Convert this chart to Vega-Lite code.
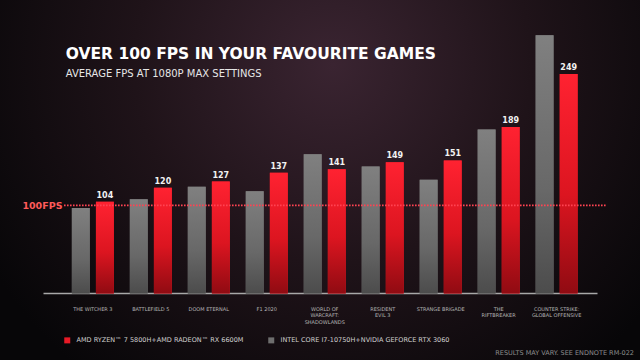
{
  "$schema": "https://vega.github.io/schema/vega-lite/v6.json",
  "width": 640,
  "height": 360,
  "autosize": {"type": "none"},
  "padding": 0,
  "background": "#070608",
  "config": {
    "font": "DejaVu Sans",
    "view": {
      "stroke": null,
      "fill": {
        "gradient": "radial",
        "x1": 0.52, "y1": 0.32, "r1": 0,
        "x2": 0.52, "y2": 0.32, "r2": 0.62,
        "stops": [
          {"offset": 0, "color": "#3a2431"},
          {"offset": 0.5, "color": "#1f1319"},
          {"offset": 1, "color": "#070608"}
        ]
      }
    }
  },
  "title": {
    "text": "OVER 100 FPS IN YOUR FAVOURITE GAMES",
    "subtitle": "AVERAGE FPS AT 1080P MAX SETTINGS",
    "anchor": "start",
    "frame": "group",
    "orient": "top",
    "offset": -78.8,
    "dx": 65.7,
    "font": "DejaVu Sans",
    "fontSize": 15.5,
    "fontWeight": "bold",
    "color": "#ffffff",
    "subtitleFont": "DejaVu Sans",
    "subtitleFontSize": 10,
    "subtitleColor": "#e6e6e6",
    "subtitlePadding": 6
  },
  "datasets": {
    "fps": [
      {"game": "THE WITCHER 3", "system": "INTEL CORE I7-10750H+NVIDIA GEFORCE RTX 3060", "fps": 97},
      {"game": "THE WITCHER 3", "system": "AMD RYZEN™ 7 5800H+AMD RADEON™ RX 6600M", "fps": 104},
      {"game": "BATTLEFIELD 5", "system": "INTEL CORE I7-10750H+NVIDIA GEFORCE RTX 3060", "fps": 107},
      {"game": "BATTLEFIELD 5", "system": "AMD RYZEN™ 7 5800H+AMD RADEON™ RX 6600M", "fps": 120},
      {"game": "DOOM ETERNAL", "system": "INTEL CORE I7-10750H+NVIDIA GEFORCE RTX 3060", "fps": 121},
      {"game": "DOOM ETERNAL", "system": "AMD RYZEN™ 7 5800H+AMD RADEON™ RX 6600M", "fps": 127},
      {"game": "F1 2020", "system": "INTEL CORE I7-10750H+NVIDIA GEFORCE RTX 3060", "fps": 116},
      {"game": "F1 2020", "system": "AMD RYZEN™ 7 5800H+AMD RADEON™ RX 6600M", "fps": 137},
      {"game": "WORLD OF|WARCRAFT:|SHADOWLANDS", "system": "INTEL CORE I7-10750H+NVIDIA GEFORCE RTX 3060", "fps": 158},
      {"game": "WORLD OF|WARCRAFT:|SHADOWLANDS", "system": "AMD RYZEN™ 7 5800H+AMD RADEON™ RX 6600M", "fps": 141},
      {"game": "RESIDENT|EVIL 3", "system": "INTEL CORE I7-10750H+NVIDIA GEFORCE RTX 3060", "fps": 144},
      {"game": "RESIDENT|EVIL 3", "system": "AMD RYZEN™ 7 5800H+AMD RADEON™ RX 6600M", "fps": 149},
      {"game": "STRANGE BRIGADE", "system": "INTEL CORE I7-10750H+NVIDIA GEFORCE RTX 3060", "fps": 129},
      {"game": "STRANGE BRIGADE", "system": "AMD RYZEN™ 7 5800H+AMD RADEON™ RX 6600M", "fps": 151},
      {"game": "THE|RIFTBREAKER", "system": "INTEL CORE I7-10750H+NVIDIA GEFORCE RTX 3060", "fps": 186},
      {"game": "THE|RIFTBREAKER", "system": "AMD RYZEN™ 7 5800H+AMD RADEON™ RX 6600M", "fps": 189},
      {"game": "COUNTER STRIKE:|GLOBAL OFFENSIVE", "system": "INTEL CORE I7-10750H+NVIDIA GEFORCE RTX 3060", "fps": 293},
      {"game": "COUNTER STRIKE:|GLOBAL OFFENSIVE", "system": "AMD RYZEN™ 7 5800H+AMD RADEON™ RX 6600M", "fps": 249}
    ]
  },
  "layer": [
    {
      "data": {"name": "fps"},
      "encoding": {
        "x": {
          "field": "game",
          "type": "nominal",
          "sort": null,
          "scale": {"range": [43, 597], "paddingInner": 0, "paddingOuter": 0.278, "align": 0.647},
          "axis": {
            "orient": "bottom",
            "offset": -67,
            "labelExpr": "split(datum.label, '|')",
            "labelAngle": 0,
            "labelFont": "DejaVu Sans",
            "labelFontSize": 5,
            "labelLineHeight": 6.8,
            "labelColor": "#b4b4b4",
            "labelPadding": 13,
            "labelBaseline": "top",
            "ticks": false,
            "domainColor": "#a8a8a8",
            "domainWidth": 1.5,
            "grid": false,
            "title": "RESULTS MAY VARY. SEE ENDNOTE RM-022",
            "titleFont": "DejaVu Sans",
            "titleFontSize": 6.5,
            "titleFontWeight": "normal",
            "titleColor": "#8c8c8c",
            "titleX": 633.5,
            "titleY": 59,
            "titleAlign": "right",
            "titleBaseline": "middle"
          }
        },
        "xOffset": {
          "field": "system",
          "type": "nominal",
          "scale": {
            "domain": ["INTEL CORE I7-10750H+NVIDIA GEFORCE RTX 3060", "AMD RYZEN™ 7 5800H+AMD RADEON™ RX 6600M"],
            "paddingInner": 0.257,
            "paddingOuter": 0.332
          }
        },
        "y": {
          "field": "fps",
          "type": "quantitative",
          "scale": {"domain": [-75.5, 333.1], "nice": false},
          "axis": {
            "orient": "left",
            "offset": -63,
            "values": [100],
            "labelExpr": "'100FPS'",
            "domain": false,
            "ticks": false,
            "grid": false,
            "title": null,
            "labelFont": "DejaVu Sans",
            "labelFontWeight": "bold",
            "labelFontSize": 9.5,
            "labelColor": "#ff5a5a",
            "labelPadding": 1,
            "labelBaseline": "middle"
          }
        }
      },
      "layer": [
        {
          "mark": {"type": "bar"},
          "encoding": {
            "y2": {"datum": 0},
            "color": {
              "field": "system",
              "type": "nominal",
              "scale": {
                "domain": ["AMD RYZEN™ 7 5800H+AMD RADEON™ RX 6600M", "INTEL CORE I7-10750H+NVIDIA GEFORCE RTX 3060"],
                "range": ["#e81a26", "#6e6e6e"]
              },
              "legend": {
                "orient": "none",
                "legendX": 64,
                "legendY": 337,
                "direction": "horizontal",
                "title": null,
                "padding": 0,
                "symbolType": "square",
                "symbolSize": 36,
                "symbolStrokeWidth": 0,
                "symbolOpacity": 1,
                "labelFont": "DejaVu Sans",
                "labelFontSize": 6.5,
                "labelColor": "#d0d0d0",
                "labelOffset": 6,
                "labelLimit": 300,
                "columnPadding": 24
              }
            }
          }
        },
        {
          "transform": [{"filter": "datum.system == 'AMD RYZEN™ 7 5800H+AMD RADEON™ RX 6600M'"}],
          "mark": {
            "type": "bar",
            "color": {"gradient": "linear", "x1": 0, "y1": 0, "x2": 0, "y2": 1, "stops": [{"offset": 0, "color": "#ff2231"}, {"offset": 0.55, "color": "#dc1520"}, {"offset": 1, "color": "#900b12"}]}
          },
          "encoding": {"y2": {"datum": 0}}
        },
        {
          "transform": [{"filter": "datum.system == 'INTEL CORE I7-10750H+NVIDIA GEFORCE RTX 3060'"}],
          "mark": {
            "type": "bar",
            "color": {"gradient": "linear", "x1": 0, "y1": 0, "x2": 0, "y2": 1, "stops": [{"offset": 0, "color": "#808080"}, {"offset": 0.6, "color": "#686868"}, {"offset": 1, "color": "#4c4c4c"}]}
          },
          "encoding": {"y2": {"datum": 0}}
        },
        {
          "transform": [{"filter": "datum.system == 'AMD RYZEN™ 7 5800H+AMD RADEON™ RX 6600M'"}],
          "mark": {"type": "text", "dy": -4, "baseline": "alphabetic", "font": "DejaVu Sans", "fontWeight": "bold", "fontSize": 8, "color": "#f2f2f2"},
          "encoding": {
            "text": {"field": "fps", "type": "quantitative"}
          }
        }
      ]
    },
    {
      "data": {"values": [{"threshold": 100}]},
      "mark": {"type": "rule", "color": "#ff4352", "strokeWidth": 1.7, "strokeDash": [1.6, 1.4]},
      "encoding": {
        "y": {"field": "threshold", "type": "quantitative"},
        "x": {"datum": 0, "type": "quantitative", "scale": {"domain": [0, 1], "range": [64, 606]}, "axis": null},
        "x2": {"datum": 1}
      }
    }
  ],
  "resolve": {"scale": {"x": "independent"}}
}
